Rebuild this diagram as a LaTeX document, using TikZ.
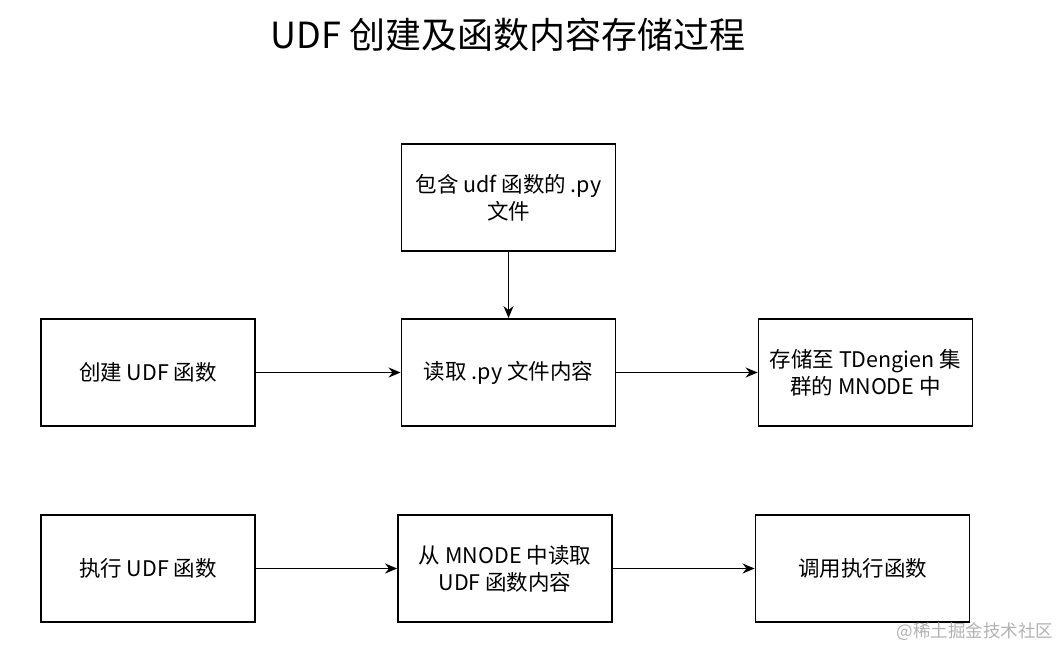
\documentclass[tikz,border=0pt]{standalone}
\usepackage{fontspec}
\setmainfont{Liberation Sans}
\newfontfamily\cjk{Noto Sans CJK SC}
\usetikzlibrary{arrows.meta}

\begin{document}
\begin{tikzpicture}[>=Stealth, x=1pt, y=-1pt,
    stepbox/.style={draw, line width=1.8pt, minimum width=214pt, minimum height=107pt,
        align=center, inner sep=0pt, font=\cjk\fontsize{21.5}{27}\selectfont},
    flow/.style={->, line width=1.8pt, >={Stealth[length=12pt, width=10pt]}}]

    % 画布范围
    \useasboundingbox (0,0) rectangle (1060,648);

    % 核心坐标参数
    \def\rowA{197.5}   % 第一行中心纵坐标
    \def\rowB{372.5}   % 第二行中心纵坐标
    \def\rowC{568.5}   % 第三行中心纵坐标

    % 1. 标题
    \node[font=\cjk\fontsize{36}{42}\selectfont] (title) at (508,35) {UDF 创建及函数内容存储过程};

    % 2. 创建流程
    \node[stepbox] (pyfile) at (508.5,\rowA) {包含 udf 函数的 .py\\文件};
    \node[stepbox] (create) at (148,\rowB) {创建 UDF 函数};
    \node[stepbox] (read) at (508.5,\rowB) {读取 .py 文件内容};
    \node[stepbox] (store) at (865.5,\rowB) {存储至 TDengien 集\\群的 MNODE 中};

    % 3. 执行流程
    \node[stepbox] (exec) at (148,\rowC) {执行 UDF 函数};
    \node[stepbox] (fetch) at (505,\rowC) {从 MNODE 中读取\\UDF 函数内容};
    \node[stepbox] (call) at (862.5,\rowC) {调用执行函数};

    % 4. 连线
    \draw[flow] (pyfile) -- (read);
    \draw[flow] (create) -- (read);
    \draw[flow] (read) -- (store);
    \draw[flow] (exec) -- (fetch);
    \draw[flow] (fetch) -- (call);

    % 5. 水印
    \node[text=black!30, font=\cjk\fontsize{17.5}{20}\selectfont] (mark) at (975,632) {@稀土掘金技术社区};

\end{tikzpicture}
\end{document}
